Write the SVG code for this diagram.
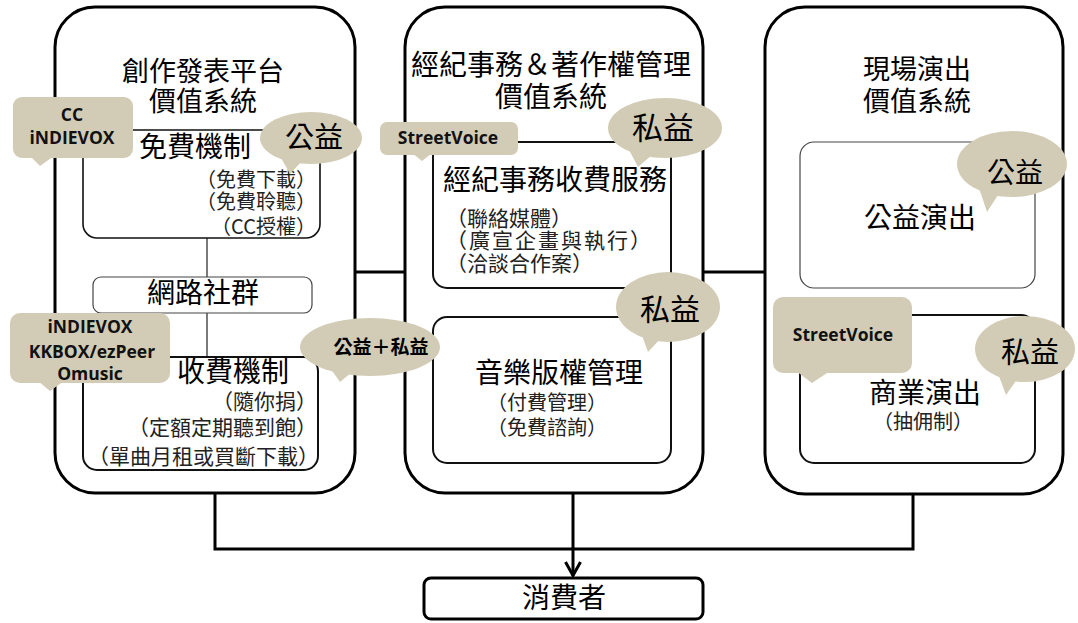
<svg xmlns="http://www.w3.org/2000/svg" width="1078" height="623" viewBox="0 0 1078 623">
<defs>
<style>
.big{fill:#fff;stroke:#000;stroke-width:3}
.inner{fill:#fff;stroke:#111;stroke-width:2}
.thin{fill:#fff;stroke:#444;stroke-width:1.2}
.conn{fill:none;stroke:#000;stroke-width:3}
.link{fill:none;stroke:#333;stroke-width:1.3}
.bub{fill:#d2ccb6;stroke:none}
.zh{font-family:"Noto Sans CJK TC","Noto Sans CJK SC",sans-serif;fill:#000}
.t{font-size:27px}
.h{font-size:28px}
.s{font-size:19px;fill:#222}
.en{font-family:"Open Sans","Liberation Sans",sans-serif;font-weight:bold;font-size:17.5px;fill:#111;text-anchor:middle}
.c{text-anchor:middle}
.r{text-anchor:end}
</style>
<marker id="arr" viewBox="0 0 16 18" refX="15" refY="9" markerWidth="16" markerHeight="18" markerUnits="userSpaceOnUse" orient="auto">
<path d="M1,1.5 L14.5,9 L1,16.5" fill="none" stroke="#000" stroke-width="3"/>
</marker>
</defs>
<rect width="1078" height="623" fill="#fff"/>

<g id="connectors">
<line class="conn" x1="355" y1="272" x2="405" y2="272"/>
<line class="conn" x1="703" y1="272" x2="765" y2="272"/>
<polyline class="conn" points="215,493 215,549 913,549 913,494"/>
<path class="conn" d="M573,493 L573,576" marker-end="url(#arr)"/>
</g>

<g id="platform">
<rect class="big" x="55" y="7" width="300" height="486" rx="40"/>
<text class="zh t c" x="203" y="81">創作發表平台</text>
<text class="zh t c" x="203" y="111">價值系統</text>
<line class="link" x1="207" y1="238" x2="207" y2="277"/>
<line class="link" x1="207" y1="313" x2="207" y2="357"/>
</g>

<g id="free">
<rect class="inner" x="83" y="130" width="237" height="108" rx="14" style="stroke-width:1.6"/>
<text class="zh h c" x="195" y="157">免費機制</text>
<text class="zh s r" x="316" y="187" style="font-size:20px">（免費下載）</text>
<text class="zh s r" x="316" y="209" style="font-size:20px">（免費聆聽）</text>
<text class="zh s r" x="316" y="234" style="font-size:20px">（CC授權）</text>
</g>

<g id="community">
<rect class="thin" x="93" y="277" width="219" height="36" rx="8"/>
<text class="zh h c" x="203" y="303">網路社群</text>
</g>

<g id="paid">
<rect class="inner" x="83" y="357" width="235" height="113" rx="14"/>
<text class="zh h c" x="233" y="382">收費機制</text>
<text class="zh s r" x="317" y="409" style="font-size:21px">（隨你捐）</text>
<text class="zh s r" x="317" y="435" style="font-size:21px">（定額定期聽到飽）</text>
<text class="zh s r" x="319" y="464" style="font-size:21px">（單曲月租或買斷下載）</text>
</g>

<g id="agency">
<rect class="big" x="405" y="7" width="298" height="486" rx="40"/>
<text class="zh h c" x="551" y="75">經紀事務＆著作權管理</text>
<text class="zh h c" x="551" y="107">價值系統</text>
</g>

<g id="agency-fee">
<rect class="inner" x="433" y="142" width="238" height="146" rx="14"/>
<text class="zh h c" x="555" y="190">經紀事務收費服務</text>
<text class="zh s" x="446" y="226" style="font-size:21px">（聯絡媒體）</text>
<text class="zh s" x="446" y="248" style="font-size:21px;letter-spacing:2px">（廣宣企畫與執行）</text>
<text class="zh s" x="446" y="271" style="font-size:21px">（洽談合作案）</text>
</g>

<g id="copyright">
<rect class="inner" x="433" y="317" width="238" height="146" rx="14"/>
<text class="zh h c" x="559" y="383">音樂版權管理</text>
<text class="zh s" x="487" y="410" style="font-size:20px">（付費管理）</text>
<text class="zh s" x="487" y="435" style="font-size:20px">（免費諮詢）</text>
</g>

<g id="live">
<rect class="big" x="765" y="7" width="298" height="487" rx="40"/>
<text class="zh t c" x="917" y="79">現場演出</text>
<text class="zh t c" x="917" y="111">價值系統</text>
</g>

<g id="charity-show">
<rect class="thin" x="800" y="142" width="235" height="146" rx="14"/>
<text class="zh h c" x="920" y="228">公益演出</text>
</g>

<g id="commercial-show">
<rect class="inner" x="800" y="315" width="235" height="148" rx="14"/>
<text class="zh h c" x="925" y="403">商業演出</text>
<text class="zh s c" x="923" y="429" style="font-size:20px">（抽佣制）</text>
</g>

<g id="consumer">
<rect class="big" x="424" y="578" width="279" height="41" rx="7"/>
<text class="zh h c" x="564" y="608">消費者</text>
</g>

<g id="callout-cc">
<rect class="bub" x="13" y="97" width="120" height="61" rx="9"/>
<polygon class="bub" points="30,156 40,166 54,156"/>
<text class="en" x="72" y="121">CC</text>
<text class="en" x="72" y="144">iNDIEVOX</text>
</g>

<g id="callout-paid">
<rect class="bub" x="10" y="313" width="160" height="70" rx="10"/>
<polygon class="bub" points="38,381 50,391 64,381"/>
<text class="en" x="90" y="333">iNDIEVOX</text>
<text class="en" x="92" y="358">KKBOX/ezPeer</text>
<text class="en" x="90" y="380">Omusic</text>
</g>

<g id="callout-sv1">
<rect class="bub" x="380" y="122" width="138" height="33" rx="7"/>
<polygon class="bub" points="412,153 422,161 432,153"/>
<text class="en" x="448" y="144">StreetVoice</text>
</g>

<g id="callout-sv2">
<rect class="bub" x="773" y="297" width="139" height="76" rx="10"/>
<polygon class="bub" points="796,371 812,383 830,371"/>
<text class="en" x="843" y="341">StreetVoice</text>
</g>

<g id="bubble-public1">
<ellipse class="bub" cx="311" cy="138" rx="51" ry="26"/>
<polygon class="bub" points="280,156 290,174 302,161"/>
<text class="zh c" x="314" y="148" style="font-size:29px">公益</text>
</g>

<g id="bubble-private1">
<ellipse class="bub" cx="665" cy="128" rx="57" ry="30"/>
<polygon class="bub" points="628,148 638,167 652,155"/>
<text class="zh c" x="663" y="139" style="font-size:31px">私益</text>
</g>

<g id="bubble-mixed">
<ellipse class="bub" cx="370" cy="347" rx="70" ry="29"/>
<polygon class="bub" points="328,365 340,382 352,372"/>
<text class="zh c" x="381" y="354" style="font-size:19px;font-weight:bold">公益＋私益</text>
</g>

<g id="bubble-private2">
<ellipse class="bub" cx="668" cy="307" rx="52" ry="35"/>
<polygon class="bub" points="640,330 648,352 662,337"/>
<text class="zh c" x="670" y="320" style="font-size:30px">私益</text>
</g>

<g id="bubble-public2">
<ellipse class="bub" cx="1012" cy="164" rx="55" ry="33"/>
<polygon class="bub" points="978,185 987,212 1000,192"/>
<text class="zh c" x="1015" y="183" style="font-size:28px">公益</text>
</g>

<g id="bubble-private3">
<ellipse class="bub" cx="1025" cy="349" rx="50" ry="33"/>
<polygon class="bub" points="996,368 1006,395 1018,378"/>
<text class="zh c" x="1030" y="363" style="font-size:29px">私益</text>
</g>
</svg>
